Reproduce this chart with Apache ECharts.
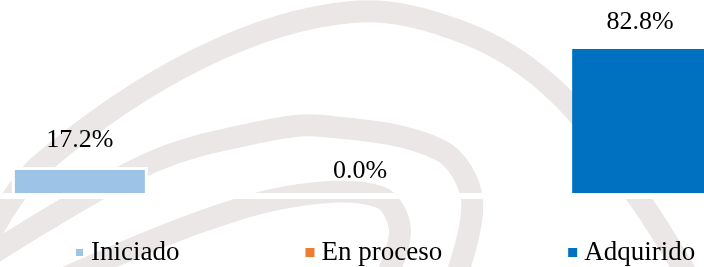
<!DOCTYPE html>
<html>
<head>
<meta charset="utf-8">
<script src="https://cdn.jsdelivr.net/npm/echarts@6/dist/echarts.min.js"></script>
<style>
  html, body { margin: 0; padding: 0; background: #fff; }
  #container { width: 704px; height: 267px; }
</style>
</head>
<body>
<div id="container"></div>
<script>
  // datos del gráfico
  const categories = ['Iniciado', 'En proceso', 'Adquirido']
  const values = [17.2, 0.0, 82.8]
  const colors = ['#9DC3E6', '#ED7D31', '#0070C0']

  const myChart = echarts.init(document.getElementById('container'))

  // marca de agua gris de fondo (bandas curvas)
  const wm = '#ebe7e7'
  const bands = [
    [[-10, 235], [40, 165], [200, 58], [352, 12], [470, 35], [560, 95], [640, 200], [690, 280]],
    [[-10, 255], [150, 163], [260, 132], [323, 126], [440, 150], [472, 200], [455, 280]],
    [[60, 280], [200, 222], [300, 195], [380, 197], [400, 230], [385, 280]]
  ]
  const watermark = bands.map((pts) => ({
    type: 'polyline',
    silent: true,
    z: -10,
    shape: { points: pts, smooth: 0.35 },
    style: { fill: null, stroke: wm, lineWidth: 22 }
  }))

  const option = {
    animation: false,
    graphic: watermark.concat([
      // tapa la franja entre el valor 0 y el borde del área de trazado
      {
        type: 'rect',
        silent: true,
        z: 100,
        shape: { x: 0, y: 193, width: 704, height: 6 },
        style: { fill: '#fff' }
      }
    ]),
    grid: { left: 16, right: 0, top: 0, bottom: 69 },
    legend: {
      data: categories,
      left: 74,
      top: 239,
      padding: 0,
      itemWidth: 9,
      itemHeight: 9,
      itemGap: 126,
      icon: 'rect',
      textStyle: { fontFamily: 'Liberation Serif', fontSize: 27, color: '#000', padding: [0, 0, 0, 2] }
    },
    xAxis: {
      type: 'category',
      data: [''],
      show: false
    },
    yAxis: { type: 'value', min: 0, max: 110, show: false },
    series: categories.map((name, i) => ({
      name: name,
      type: 'bar',
      barWidth: 136,
      barGap: '106%',
      clip: false,
      data: [values[i]],
      itemStyle: { color: colors[i], borderColor: i === 0 ? '#fff' : 'transparent', borderWidth: i === 0 ? 3 : 0 },
      label: {
        show: true,
        position: 'top',
        distance: 14,
        formatter: (p) => p.value.toFixed(1) + '%',
        fontFamily: 'Liberation Serif',
        fontSize: 26,
        color: '#000'
      }
    }))
  }
  myChart.setOption(option)
</script>
</body>
</html>
